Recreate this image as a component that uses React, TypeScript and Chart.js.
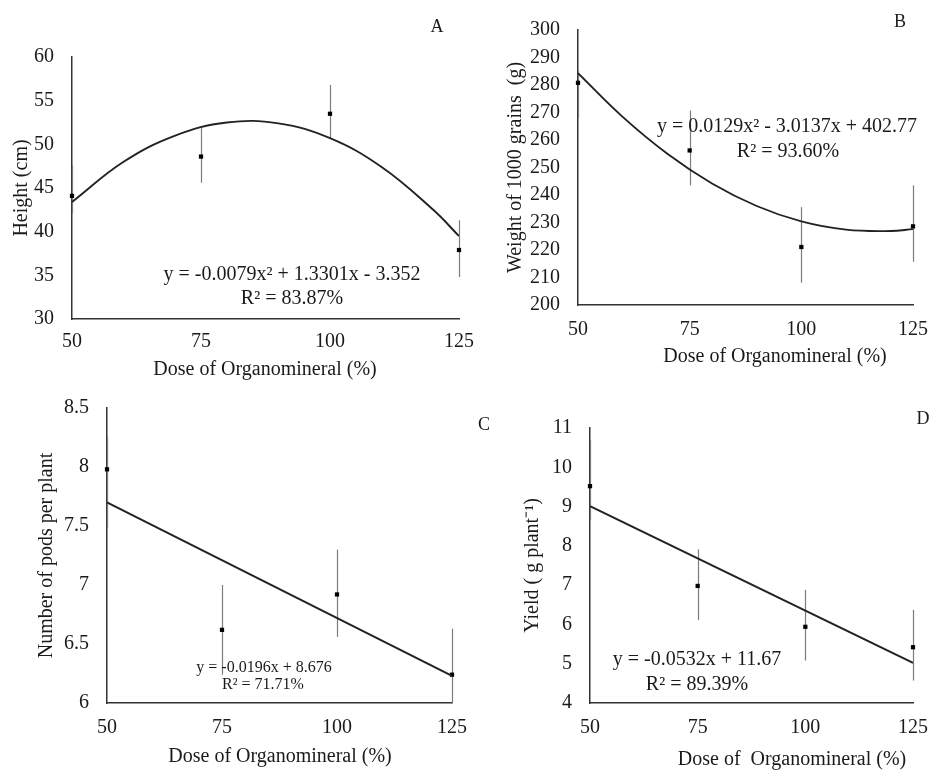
import React, { useEffect, useRef } from "react";
import { Chart, registerables } from "chart.js";

Chart.register(...registerables);

const PAGE_W = 941;
const PAGE_H = 771;
const FONT = "'Liberation Serif', 'Times New Roman', serif";
const INK = "#1a1a1a";

// ---------- data ----------
const doses = [50, 75, 100, 125];
const xTickValues = [50, 75, 100, 125];
const curveDoses = [50, 60, 70, 80, 90, 100, 110, 120, 125];
const lineDoses = [50, 125];

// A: plant height (cm)
const heightMean = [44.1, 48.6, 53.5, 37.9];
const heightLow = [42.1, 45.6, 50.7, 34.8];
const heightHigh = [47.6, 52.0, 56.8, 41.3];
const heightFit = [43.4, 48.0, 51.0, 52.5, 52.4, 50.7, 47.4, 42.5, 39.5];

// B: weight of 1000 grains (g)
const weightMean = [280.8, 256.2, 221.1, 228.6];
const weightLow = [268.1, 243.5, 208.1, 215.7];
const weightHigh = [285.1, 270.7, 235.6, 243.5];
const weightFit = [284.3, 268.4, 255.0, 244.2, 236.0, 230.4, 227.4, 226.9, 227.6];

// C: number of pods per plant
const podsMean = [7.98, 6.62, 6.92, 6.24];
const podsLow = [7.48, 6.24, 6.56, 5.85];
const podsHigh = [8.26, 7.0, 7.3, 6.63];
const podsFit = [7.7, 6.23];

// D: yield (g plant-1)
const yieldMean = [9.52, 6.98, 5.94, 5.42];
const yieldLow = [8.66, 6.11, 5.08, 4.57];
const yieldHigh = [10.69, 7.91, 6.88, 6.37];
const yieldFit = [9.01, 5.02];

// ---------- panels ----------
type Panel = {
  key: string;
  area: { l: number; t: number; r: number; b: number };
  yMin: number; yMax: number; yStep: number;
  yTitle: string; yTitleX: number;
  xTickPad: number;
  mean: number[]; low: number[]; high: number[];
  fitX: number[]; fitY: number[]; tension: number;
  letter: string; letterPos: [number, number];
  eq: string[]; eqPos: [number, number][]; eqSize: number;
  xTitle: string; xTitlePos: [number, number];
};

const panels: Panel[] = [
  {
    key: "A", area: { l: 72, t: 57, r: 459, b: 319 },
    yMin: 30, yMax: 60, yStep: 5, yTitle: "Height (cm)", yTitleX: 22, xTickPad: 11,
    mean: heightMean, low: heightLow, high: heightHigh,
    fitX: curveDoses, fitY: heightFit, tension: 0.4,
    letter: "A", letterPos: [437, 27],
    eq: ["y = -0.0079x² + 1.3301x - 3.352", "R² = 83.87%"], eqPos: [[292, 275], [292, 299]], eqSize: 20,
    xTitle: "Dose of Organomineral (%)", xTitlePos: [265, 370],
  },
  {
    key: "B", area: { l: 578, t: 29, r: 918, b: 305 },
    yMin: 200, yMax: 300, yStep: 10, yTitle: "Weight of 1000 grains  (g)", yTitleX: 516, xTickPad: 13,
    mean: weightMean, low: weightLow, high: weightHigh,
    fitX: curveDoses, fitY: weightFit, tension: 0.4,
    letter: "B", letterPos: [900, 22],
    eq: ["y = 0.0129x² - 3.0137x + 402.77", "R² = 93.60%"], eqPos: [[787, 127], [788, 152]], eqSize: 20,
    xTitle: "Dose of Organomineral (%)", xTitlePos: [775, 357],
  },
  {
    key: "C", area: { l: 107, t: 408, r: 452, b: 703 },
    yMin: 6, yMax: 8.5, yStep: 0.5, yTitle: "Number of pods per plant", yTitleX: 47, xTickPad: 13,
    mean: podsMean, low: podsLow, high: podsHigh,
    fitX: lineDoses, fitY: podsFit, tension: 0,
    letter: "C", letterPos: [484, 425],
    eq: ["y = -0.0196x + 8.676", "R² = 71.71%"], eqPos: [[264, 668], [263, 685]], eqSize: 16,
    xTitle: "Dose of Organomineral (%)", xTitlePos: [280, 757],
  },
  {
    key: "D", area: { l: 590, t: 428, r: 926, b: 703 },
    yMin: 4, yMax: 11, yStep: 1, yTitle: "Yield ( g plant\u207B\u00B9)", yTitleX: 533, xTickPad: 13,
    mean: yieldMean, low: yieldLow, high: yieldHigh,
    fitX: lineDoses, fitY: yieldFit, tension: 0,
    letter: "D", letterPos: [923, 419],
    eq: ["y = -0.0532x + 11.67", "R² = 89.39%"], eqPos: [[697, 660], [697, 685]], eqSize: 20,
    xTitle: "Dose of  Organomineral (%)", xTitlePos: [792, 760],
  },
];

const X_AXIS_H = 40;
const TITLE_LH = 24; // 20px * 1.2

function makeDecor(p: Panel) {
  return {
    id: "panelDecor" + p.key,
    beforeDatasetsDraw(chart: any) {
      const { ctx, chartArea, scales } = chart;
      const x = scales.x, y = scales.y;
      ctx.save();
      ctx.beginPath();
      ctx.rect(chartArea.left - 6, chartArea.top, chartArea.right - chartArea.left + 12, chartArea.bottom - chartArea.top);
      ctx.clip();
      ctx.strokeStyle = "#7c7c7c";
      ctx.lineWidth = 1.2;
      doses.forEach((d, i) => {
        const px = Math.round(x.getPixelForValue(d)) + 0.5;
        ctx.beginPath();
        ctx.moveTo(px, y.getPixelForValue(p.low[i]));
        ctx.lineTo(px, y.getPixelForValue(p.high[i]));
        ctx.stroke();
      });
      ctx.restore();
    },
    afterDraw(chart: any) {
      const { ctx } = chart;
      ctx.save();
      ctx.fillStyle = INK;
      ctx.textAlign = "center";
      ctx.textBaseline = "middle";
      ctx.font = `18px ${FONT}`;
      ctx.fillText(p.letter, p.letterPos[0], p.letterPos[1]);
      ctx.font = `${p.eqSize}px ${FONT}`;
      p.eq.forEach((s, i) => ctx.fillText(s, p.eqPos[i][0], p.eqPos[i][1]));
      ctx.font = `20px ${FONT}`;
      ctx.fillText(p.xTitle, p.xTitlePos[0], p.xTitlePos[1]);
      ctx.restore();
    },
  };
}

function PanelChart({ p }: { p: Panel }) {
  const ref = useRef<HTMLCanvasElement | null>(null);
  useEffect(() => {
    if (!ref.current) return;
    const yPadLeft = p.yTitleX - TITLE_LH / 2;
    const yWidth = p.area.l - yPadLeft;
    const chart = new Chart(ref.current, {
      type: "scatter",
      data: {
        datasets: [
          {
            label: "fit",
            data: p.fitX.map((xv, i) => ({ x: xv, y: p.fitY[i] })),
            showLine: true,
            borderColor: "#222",
            borderWidth: 1.9,
            pointRadius: 0,
            tension: p.tension,
            fill: false,
          },
          {
            label: "mean",
            data: doses.map((d, i) => ({ x: d, y: p.mean[i] })),
            showLine: false,
            pointStyle: "rect",
            pointRadius: 3,
            backgroundColor: "#000",
            borderColor: "#000",
            borderWidth: 0,
            clip: false,
          },
        ],
      },
      options: {
        animation: false,
        responsive: false,
        devicePixelRatio: 1,
        events: [],
        layout: {
          padding: {
            left: yPadLeft,
            top: p.area.t,
            right: PAGE_W - p.area.r,
            bottom: PAGE_H - p.area.b - X_AXIS_H,
          },
        },
        plugins: { legend: { display: false }, tooltip: { enabled: false } },
        scales: {
          x: {
            type: "linear",
            min: 50,
            max: 125,
            afterBuildTicks: (s: any) => { s.ticks = xTickValues.map((v) => ({ value: v })); },
            afterFit: (s: any) => { s.height = X_AXIS_H; },
            grid: { display: false, drawTicks: false },
            border: { display: true, color: "#333", width: 1.5 },
            ticks: {
              padding: p.xTickPad,
              autoSkip: false,
              maxRotation: 0,
              color: INK,
              font: { family: FONT, size: 20 },
              callback: (v: any) => String(v),
            },
          },
          y: {
            type: "linear",
            min: p.yMin,
            max: p.yMax,
            afterFit: (s: any) => { s.width = yWidth; },
            grid: { display: false, drawTicks: false },
            border: { display: true, color: "#333", width: 1.5 },
            ticks: {
              stepSize: p.yStep,
              padding: 18,
              color: INK,
              font: { family: FONT, size: 20 },
              callback: (v: any) => String(Math.round(v * 10) / 10),
            },
            title: {
              display: true,
              text: p.yTitle,
              color: INK,
              font: { family: FONT, size: 20, lineHeight: 1.2 },
              padding: { top: 0, bottom: 0 },
            },
          },
        },
      } as any,
      plugins: [makeDecor(p)],
    });
    return () => chart.destroy();
  }, [p]);
  return (
    <canvas
      ref={ref}
      width={PAGE_W}
      height={PAGE_H}
      style={{ position: "absolute", left: 0, top: 0, width: PAGE_W, height: PAGE_H }}
    />
  );
}

export default function App() {
  return (
    <div style={{ position: "fixed", left: 0, top: 0, width: PAGE_W, height: PAGE_H, background: "#fff" }}>
      {panels.map((p) => (
        <PanelChart key={p.key} p={p} />
      ))}
    </div>
  );
}
